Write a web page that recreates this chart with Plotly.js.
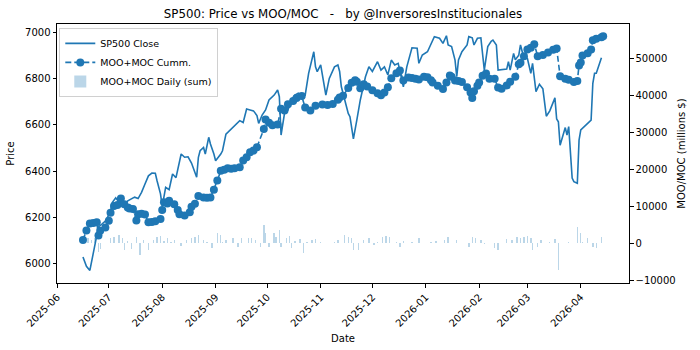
<!DOCTYPE html>
<html><head><meta charset="utf-8">
<script src="https://cdn.plot.ly/plotly-3.0.1.min.js"></script>
<style>html,body{margin:0;padding:0;background:#fff}</style>
</head><body>
<div id="chart" style="width:700px;height:350px"></div>
<script>
const priceDates = ["2025-06-16","2025-06-18","2025-06-20","2025-06-22","2025-06-24","2025-06-25","2025-06-27","2025-06-29","2025-07-02","2025-07-03","2025-07-05","2025-07-07","2025-07-09","2025-07-10","2025-07-12","2025-07-14","2025-07-16","2025-07-18","2025-07-20","2025-07-22","2025-07-24","2025-07-26","2025-07-28","2025-07-29","2025-07-31","2025-08-01","2025-08-03","2025-08-05","2025-08-07","2025-08-09","2025-08-11","2025-08-12","2025-08-14","2025-08-16","2025-08-18","2025-08-21","2025-08-22","2025-08-23","2025-08-25","2025-08-26","2025-08-28","2025-08-29","2025-08-31","2025-09-01","2025-09-04","2025-09-05","2025-09-07","2025-09-09","2025-09-11","2025-09-13","2025-09-15","2025-09-17","2025-09-19","2025-09-21","2025-09-23","2025-09-25","2025-09-26","2025-09-28","2025-09-30","2025-10-02","2025-10-05","2025-10-07","2025-10-08","2025-10-09","2025-10-11","2025-10-13","2025-10-15","2025-10-17","2025-10-19","2025-10-21","2025-10-23","2025-10-25","2025-10-27","2025-10-28","2025-10-29","2025-10-30","2025-11-01","2025-11-02","2025-11-04","2025-11-06","2025-11-09","2025-11-11","2025-11-12","2025-11-13","2025-11-15","2025-11-17","2025-11-18","2025-11-20","2025-11-22","2025-11-24","2025-11-27","2025-11-29","2025-12-01","2025-12-04","2025-12-06","2025-12-08","2025-12-10","2025-12-12","2025-12-14","2025-12-16","2025-12-19","2025-12-21","2025-12-24","2025-12-27","2025-12-28","2025-12-30","2026-01-02","2026-01-04","2026-01-06","2026-01-09","2026-01-11","2026-01-13","2026-01-14","2026-01-16","2026-01-18","2026-01-19","2026-01-20","2026-01-22","2026-01-25","2026-01-26","2026-01-28","2026-01-29","2026-01-31","2026-02-02","2026-02-03","2026-02-04","2026-02-06","2026-02-08","2026-02-09","2026-02-11","2026-02-12","2026-02-15","2026-02-17","2026-02-18","2026-02-19","2026-02-21","2026-02-22","2026-02-24","2026-02-25","2026-02-27","2026-03-01","2026-03-03","2026-03-04","2026-03-06","2026-03-08","2026-03-10","2026-03-12","2026-03-14","2026-03-15","2026-03-17","2026-03-18","2026-03-19","2026-03-20","2026-03-22","2026-03-23","2026-03-24","2026-03-25","2026-03-27","2026-03-28","2026-03-30","2026-03-31","2026-04-01","2026-04-07","2026-04-08","2026-04-09","2026-04-10","2026-04-13"];
const priceValues = [6030,5990,5972,6050,6115,6160,6172,6185,6225,6265,6285,6265,6262,6258,6272,6280,6288,6282,6309,6345,6380,6392,6391,6359,6302,6248,6330,6320,6388,6372,6445,6474,6460,6462,6435,6374,6460,6488,6502,6474,6546,6517,6474,6445,6474,6488,6560,6575,6589,6603,6618,6610,6668,6664,6660,6640,6606,6642,6664,6707,6728,6750,6721,6556,6649,6664,6707,6728,6736,6728,6728,6822,6894,6915,6850,6829,6858,6808,6728,6800,6850,6858,6830,6764,6707,6649,6635,6539,6621,6707,6807,6850,6830,6872,6836,6850,6815,6879,6858,6865,6764,6850,6932,6930,6865,6901,6915,6944,6980,6973,6951,6984,6944,6937,6879,6807,6880,6915,6944,6980,6975,6944,6973,6975,6908,6836,6937,6960,6965,6944,6836,6838,6840,6872,6836,6908,6880,6900,6944,6887,6887,6822,6865,6743,6775,6755,6637,6660,6678,6716,6625,6613,6512,6558,6588,6556,6592,6370,6355,6348,6534,6578,6620,6779,6822,6822,6889];

const cumDates = ["2025-06-16","2025-06-18","2025-06-20","2025-06-22","2025-06-24","2025-06-25","2025-06-26","2025-06-29","2025-07-01","2025-07-02","2025-07-04","2025-07-06","2025-07-08","2025-07-10","2025-07-12","2025-07-13","2025-07-15","2025-07-17","2025-07-18","2025-07-20","2025-07-22","2025-07-24","2025-07-26","2025-07-28","2025-07-31","2025-08-01","2025-08-02","2025-08-04","2025-08-05","2025-08-08","2025-08-10","2025-08-11","2025-08-14","2025-08-17","2025-08-18","2025-08-20","2025-08-22","2025-08-25","2025-08-27","2025-08-29","2025-08-31","2025-09-02","2025-09-04","2025-09-06","2025-09-08","2025-09-10","2025-09-12","2025-09-15","2025-09-17","2025-09-19","2025-09-21","2025-09-23","2025-09-25","2025-09-29","2025-09-30","2025-10-02","2025-10-04","2025-10-07","2025-10-09","2025-10-11","2025-10-13","2025-10-16","2025-10-18","2025-10-21","2025-10-23","2025-10-26","2025-10-29","2025-11-02","2025-11-05","2025-11-08","2025-11-11","2025-11-12","2025-11-14","2025-11-17","2025-11-19","2025-11-21","2025-11-22","2025-11-24","2025-11-26","2025-11-28","2025-12-01","2025-12-04","2025-12-06","2025-12-08","2025-12-10","2025-12-12","2025-12-15","2025-12-17","2025-12-19","2025-12-22","2025-12-24","2025-12-26","2025-12-28","2025-12-31","2026-01-02","2026-01-04","2026-01-05","2026-01-08","2026-01-11","2026-01-13","2026-01-15","2026-01-16","2026-01-18","2026-01-20","2026-01-22","2026-01-25","2026-01-27","2026-01-28","2026-01-29","2026-01-31","2026-02-01","2026-02-03","2026-02-05","2026-02-07","2026-02-10","2026-02-12","2026-02-14","2026-02-17","2026-02-19","2026-02-22","2026-02-24","2026-02-25","2026-02-27","2026-03-01","2026-03-03","2026-03-05","2026-03-07","2026-03-10","2026-03-13","2026-03-16","2026-03-18","2026-03-20","2026-03-23","2026-03-25","2026-03-28","2026-03-30","2026-03-31","2026-04-01","2026-04-02","2026-04-05","2026-04-07","2026-04-08","2026-04-10","2026-04-13","2026-04-14"];
const cumValues = [800,3400,5300,5400,5600,2000,3300,4200,6000,8200,10000,10300,12000,10500,9600,9300,9200,6100,7800,7900,7700,5600,5700,5900,6500,8900,11000,10700,11400,10500,8900,7800,7400,8300,9800,10600,12700,12300,12200,12300,14400,16900,19500,19800,20200,20100,20200,20500,22300,23200,24500,25000,25900,30800,33400,32500,31800,32000,36300,35800,37500,38400,39200,39700,36600,35800,37100,37400,37300,37600,38700,39300,39800,41900,43300,44000,43600,41800,42900,42300,41300,40500,39900,40700,42100,44500,45900,46600,43900,44700,44600,44400,44200,44900,44800,44000,43400,42500,41600,43400,45300,44900,43900,43800,43500,42100,40700,39200,41000,42500,43400,45200,45800,44400,44400,42000,41700,42600,43600,44900,48300,48700,50500,52300,52800,53700,50500,50800,51500,52200,52600,45100,44400,44100,43500,43800,48000,48800,50700,51300,52300,54800,55200,55600,55900];

const dailyDates = ["2025-06-19","2025-06-21","2025-06-23","2025-06-25","2025-06-26","2025-07-02","2025-07-04","2025-07-07","2025-07-09","2025-07-10","2025-07-12","2025-07-14","2025-07-17","2025-07-19","2025-07-21","2025-07-24","2025-07-27","2025-07-29","2025-07-31","2025-08-02","2025-08-04","2025-08-06","2025-08-08","2025-08-10","2025-08-12","2025-08-15","2025-08-18","2025-08-20","2025-08-22","2025-08-25","2025-08-27","2025-08-30","2025-09-02","2025-09-04","2025-09-05","2025-09-07","2025-09-09","2025-09-11","2025-09-14","2025-09-16","2025-09-18","2025-09-20","2025-09-22","2025-09-24","2025-09-27","2025-09-29","2025-09-30","2025-10-02","2025-10-05","2025-10-06","2025-10-08","2025-10-09","2025-10-12","2025-10-14","2025-10-15","2025-10-17","2025-10-20","2025-10-22","2025-10-24","2025-10-27","2025-10-29","2025-11-01","2025-11-03","2025-11-06","2025-11-09","2025-11-11","2025-11-15","2025-11-17","2025-11-19","2025-11-20","2025-11-23","2025-11-26","2025-11-29","2025-11-30","2025-12-02","2025-12-04","2025-12-07","2025-12-09","2025-12-11","2025-12-13","2025-12-15","2025-12-17","2025-12-19","2025-12-21","2025-12-24","2025-12-27","2025-12-28","2025-12-31","2026-01-04","2026-01-07","2026-01-10","2026-01-12","2026-01-14","2026-01-16","2026-01-19","2026-01-21","2026-01-24","2026-01-26","2026-01-28","2026-01-30","2026-02-02","2026-02-04","2026-02-08","2026-02-10","2026-02-12","2026-02-17","2026-02-20","2026-02-23","2026-02-25","2026-02-27","2026-03-01","2026-03-03","2026-03-04","2026-03-07","2026-03-09","2026-03-11","2026-03-14","2026-03-17","2026-03-19","2026-03-22","2026-03-25","2026-03-27","2026-03-30","2026-04-01","2026-04-02","2026-04-05","2026-04-08","2026-04-10","2026-04-13"];
const dailyValues = [1260,810,1260,-2340,-1710,1260,1710,2160,1260,-1890,630,-1710,1710,-3240,810,-1890,810,1710,1890,630,1260,270,810,-90,-810,810,1260,1710,2160,810,270,-1440,2610,2160,270,810,-90,1260,-990,1260,-90,1260,1260,810,-990,4860,2610,-990,2790,1530,3510,-990,1260,1890,-1440,630,990,-2790,270,810,990,270,90,90,270,810,2160,1710,1260,-1890,-1890,810,1260,-90,-540,270,1710,1890,1710,-90,270,-990,630,-90,270,-90,1260,50,270,630,-50,810,1710,-90,810,-90,30,-990,1710,1260,810,-270,-90,-1440,-1890,990,810,1710,1260,1710,1890,1260,-1890,-990,810,-90,270,990,-7300,30,270,-90,4410,2610,270,1260,-990,-1440,1710];

const blue = '#1f77b4';
const tickFont = {family: 'DejaVu Sans, sans-serif', size: 10, color: '#000'};
const labelFont = {family: 'DejaVu Sans, sans-serif', size: 10, color: '#000'};

const traces = [
  {type: 'scatter', mode: 'lines', name: 'SP500 Close', x: priceDates, y: priceValues,
   line: {color: blue, width: 1.6}, yaxis: 'y'},
  {type: 'scatter', mode: 'lines+markers', name: 'MOO+MOC Cumm.', x: cumDates, y: cumValues,
   line: {color: blue, width: 1.6, dash: '6px,3px'}, marker: {color: blue, size: 8}, yaxis: 'y2'},
  {type: 'bar', name: 'MOO+MOC Daily (sum)', x: dailyDates, y: dailyValues,
   marker: {color: 'rgba(31,119,180,0.3)', line: {width: 0}}, width: 0.8*86400000, yaxis: 'y2'}
];

const layout = {
  width: 700, height: 350,
  margin: {l: 57, r: 71, t: 24, b: 67},
  paper_bgcolor: '#fff', plot_bgcolor: '#fff',
  font: labelFont,
  showlegend: true,
  title: {text: 'SP500: Price vs MOO/MOC\u00a0\u00a0\u00a0-\u00a0\u00a0\u00a0by @InversoresInstitucionales',
          font: {family: 'DejaVu Sans, sans-serif', size: 11.8, color: '#000'},
          x: 0.49, xanchor: 'center', y: 0.96, yanchor: 'middle'},
  xaxis: {type: 'date', range: ['2025-05-31 22:00', '2026-04-29'],
          tickformat: '%Y-%m', dtick: 'M1', tick0: '2025-06-01', tickangle: -45,
          showgrid: false, zeroline: false, showline: true, linecolor: '#000', linewidth: 1, mirror: true,
          ticks: 'outside', ticklen: 3.5, tickcolor: '#000', tickfont: tickFont,
          title: {text: 'Date', font: labelFont, standoff: 6}},
  yaxis: {range: [5918, 7034.5], dtick: 200, tick0: 6000, showgrid: false, zeroline: false,
          showline: true, linecolor: '#000', linewidth: 1, ticks: 'outside', ticklen: 3.5, tickcolor: '#000',
          tickfont: tickFont, title: {text: 'Price', font: labelFont, standoff: 8}},
  yaxis2: {overlaying: 'y', side: 'right', range: [-10810, 59190], dtick: 10000, tick0: 0, tickformat: 'd',
           showgrid: false, zeroline: false, showline: true, linecolor: '#000', linewidth: 1,
           ticks: 'outside', ticklen: 3.5, tickcolor: '#000', tickfont: tickFont,
           title: {text: 'MOO/MOC (millions $)', font: labelFont, standoff: 3}},
  legend: {x: 0.004, y: 0.985, xanchor: 'left', yanchor: 'top', bgcolor: 'rgba(255,255,255,0.85)',
           bordercolor: '#d0d0d0', borderwidth: 1, itemwidth: 30, tracegroupgap: 0,
           font: {family: 'DejaVu Sans, sans-serif', size: 9.5, color: '#000'},
           traceorder: 'normal'},
  bargap: 0
};

Plotly.newPlot('chart', traces, layout, {staticPlot: true, displayModeBar: false});
</script>
</body></html>
